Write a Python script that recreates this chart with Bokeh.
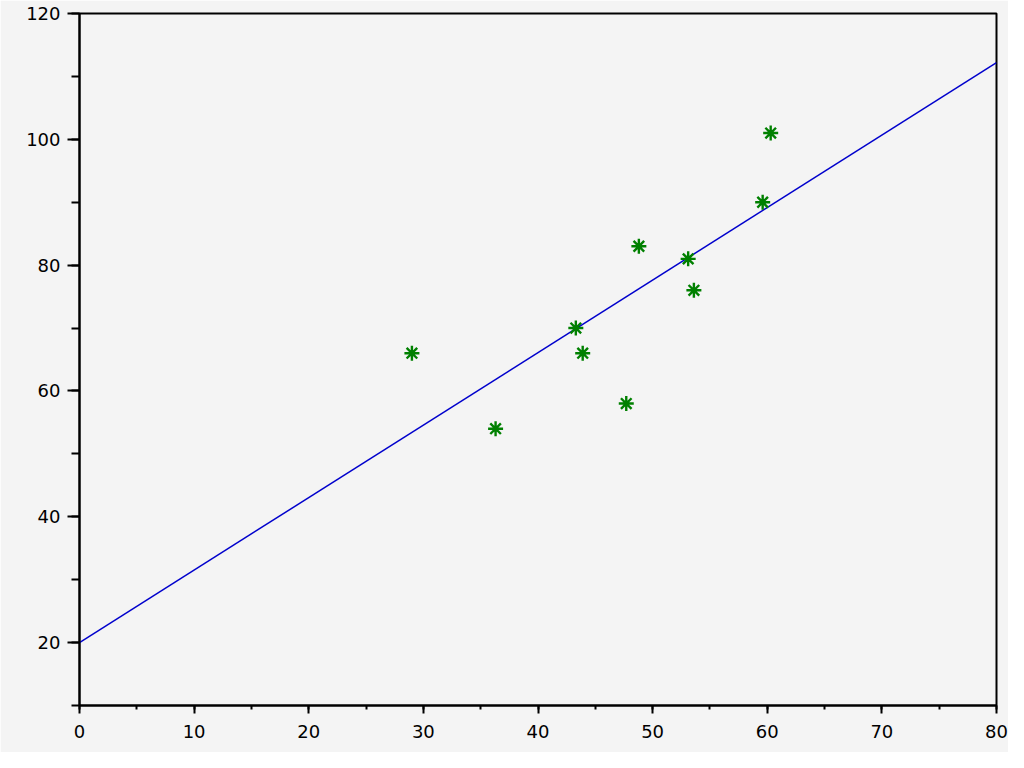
from bokeh.plotting import figure
from bokeh.models import Range1d, SingleIntervalTicker
from bokeh.embed import file_html
from bokeh.resources import INLINE

# data
x_vals = [29.0, 36.3, 43.3, 43.9, 47.7, 48.8, 53.1, 53.6, 59.6, 60.3]
y_vals = [66.0, 54.0, 70.0, 66.0, 58.0, 83.0, 81.0, 76.0, 90.0, 101.0]
fit_intercept = 20.0
fit_slope = 1.1525
line_x = [0.0, 80.0]
line_y = [fit_intercept + fit_slope * v for v in line_x]

BG = "#f4f4f4"
FONT = "DejaVu Sans"

p = figure(width=1008, height=752, output_backend="svg", toolbar_location=None,
           x_range=Range1d(0, 80), y_range=Range1d(10, 120),
           background_fill_color=BG, border_fill_color=BG,
           min_border_left=79, min_border_right=12, min_border_top=13, min_border_bottom=47)

p.xgrid.visible = False
p.ygrid.visible = False
p.outline_line_color = "black"
p.outline_line_width = 2

p.xaxis.ticker = SingleIntervalTicker(interval=10, num_minor_ticks=2)
p.yaxis.ticker = SingleIntervalTicker(interval=20, num_minor_ticks=2)

for ax in (p.xaxis, p.yaxis):
    ax.axis_line_width = 2
    ax.axis_line_color = "black"
    ax.major_tick_line_width = 2
    ax.minor_tick_line_width = 2
    ax.major_tick_in = 0
    ax.minor_tick_in = 0
    ax.major_label_text_font = FONT
    ax.major_label_text_font_size = "18px"
    ax.major_label_text_color = "black"

p.xaxis.major_tick_out = 8
p.xaxis.minor_tick_out = 4
p.xaxis.major_label_standoff = 11
p.yaxis.major_tick_out = 12
p.yaxis.minor_tick_out = 8
p.yaxis.major_label_standoff = 7

p.line(line_x, line_y, line_color="#0000cc", line_width=1.5)
p.scatter(x_vals, y_vals, marker="asterisk", size=15, line_color="#008000", line_width=2.4)

html = file_html(p, INLINE)
html = html.replace("<body>", '<body style="background-color:#f4f4f4;">', 1)
open("out.html", "w").write(html)
